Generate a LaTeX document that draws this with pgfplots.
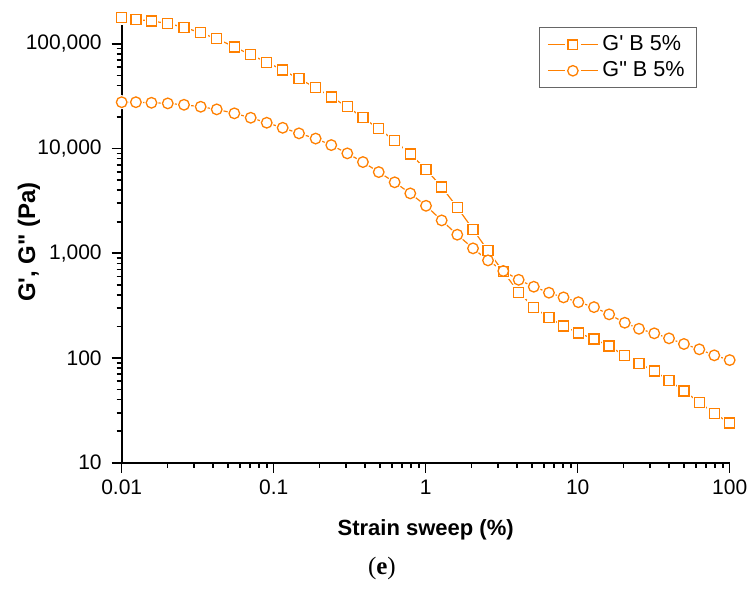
\documentclass[border=0pt]{standalone}
\usepackage{fontspec}
\setmainfont{Liberation Sans}
\newfontfamily\serifa{Liberation Serif}
\usepackage{pgfplots}
\pgfplotsset{compat=1.18}
\usepackage{pgfplotstable}
\definecolor{oc}{RGB}{255,128,0}

\pgfplotstableread{
x gp gpp
0.01 177000 27700
0.0124 171000 27700
0.0157 165000 27350
0.0201 156700 26990
0.0257 143600 26170
0.0331 127400 25060
0.0422 111700 23660
0.0551 93500 21680
0.0706 78500 19680
0.0900 66800 17630
0.1146 56100 15780
0.1467 46300 13960
0.1888 38200 12450
0.2392 31000 10790
0.305 25100 8990
0.3865 19700 7430
0.491 15450 5960
0.625 11860 4760
0.792 8850 3730
1.005 6330 2840
1.274 4300 2060
1.614 2740 1503
2.048 1690 1114
2.57 1057 855
3.24 665 677
4.09 424 558
5.14 305 479
6.47 242 420
8.07 202 379
10.1 173 341
12.8 152 306
16.1 130 261
20.4 105 217
25.3 88.9 190
31.9 75.0 172
39.9 61.3 154
50.0 48.3 136
63.1 37.8 121
79.2 29.6 106
100 23.9 95.5
}\data

\begin{document}
\begin{tikzpicture}
\begin{axis}[
 name=ax,
 xmode=log, ymode=log,
 scale only axis, width=304pt, height=225.2pt,
 xmin=0.01, xmax=100, ymin=10, ymax=200000,
 axis x line*=bottom, axis y line*=left,
 axis line style={line width=1pt, -},
 tick align=outside,
 major tick length=5pt, minor tick length=2.6pt,
 every tick/.style={black, line width=0.8pt},
 xtick={0.01,0.1,1,10,100}, xticklabels={0.01,0.1,1,10,100},
 ytick={10,100,1000,10000,100000}, yticklabels={10,100,{1,000},{10,000},{100,000}},
 /pgf/number format/assume math mode=true,
 tick label style={font=\fontsize{10.5}{12}\selectfont},
 yticklabel style={xshift=-1.5pt},
 xlabel={\textbf{Strain sweep (\%)}},
 ylabel={\textbf{G\textquotesingle, G\textquotedbl\ (Pa)}},
 xlabel style={at={(axis description cs:0.5,-0.150)}, anchor=center, font=\fontsize{11}{13}\selectfont},
 ylabel style={at={(axis description cs:-0.1525,0.49)}, anchor=center, font=\fontsize{12}{14}\selectfont},
 legend style={at={(axis description cs:0.686,0.967)}, anchor=north west, draw=black!60, line width=0.5pt,
   font=\fontsize{10.8}{12}\selectfont, inner xsep=4pt},
 legend cell align=left,
 clip=false,
]
% lines
\addplot[oc, line width=0.6pt, forget plot] table[x=x, y=gp] {\data};
\addplot[oc, line width=0.6pt, forget plot] table[x=x, y=gpp] {\data};
% halos (gap between line and symbol)
\addplot[only marks, mark=square*, mark size=3.2pt, mark options={white, fill=white}, forget plot] table[x=x, y=gp] {\data};
\addplot[only marks, mark=*, mark size=3.3pt, mark options={white, fill=white}, forget plot] table[x=x, y=gpp] {\data};
% symbols
\addplot[only marks, mark=square, mark size=2.5pt, mark options={oc, line width=0.65pt}, forget plot] table[x=x, y=gp] {\data};
\addplot[only marks, mark=o, mark size=2.65pt, mark options={oc, line width=0.65pt}, forget plot] table[x=x, y=gpp] {\data};

\addlegendimage{legend image code/.code={
  \draw[oc, line width=0.6pt] (0pt,0pt) -- (8.5pt,0pt) (16.5pt,0pt) -- (25pt,0pt);
  \draw[oc, line width=0.65pt] (10.1pt,-2.4pt) rectangle (14.9pt,2.4pt);}}
\addlegendentry{G\textquotesingle\ B 5\%}
\addlegendimage{legend image code/.code={
  \draw[oc, line width=0.6pt] (0pt,0pt) -- (8.5pt,0pt) (16.5pt,0pt) -- (25pt,0pt);
  \draw[oc, line width=0.65pt] (12.5pt,0pt) circle (2.6pt);}}
\addlegendentry{G\textquotedbl\ B 5\%}

\node[font=\serifa\fontsize{12.5}{14}\selectfont] at (axis description cs:0.428,-0.2355) {(\textbf{e})};
\end{axis}
\pgfresetboundingbox
\path ([xshift=-60.85pt, yshift=-63.65pt]ax.south west) rectangle ([xshift=9.15pt, yshift=6.15pt]ax.north east);
\end{tikzpicture}
\end{document}
